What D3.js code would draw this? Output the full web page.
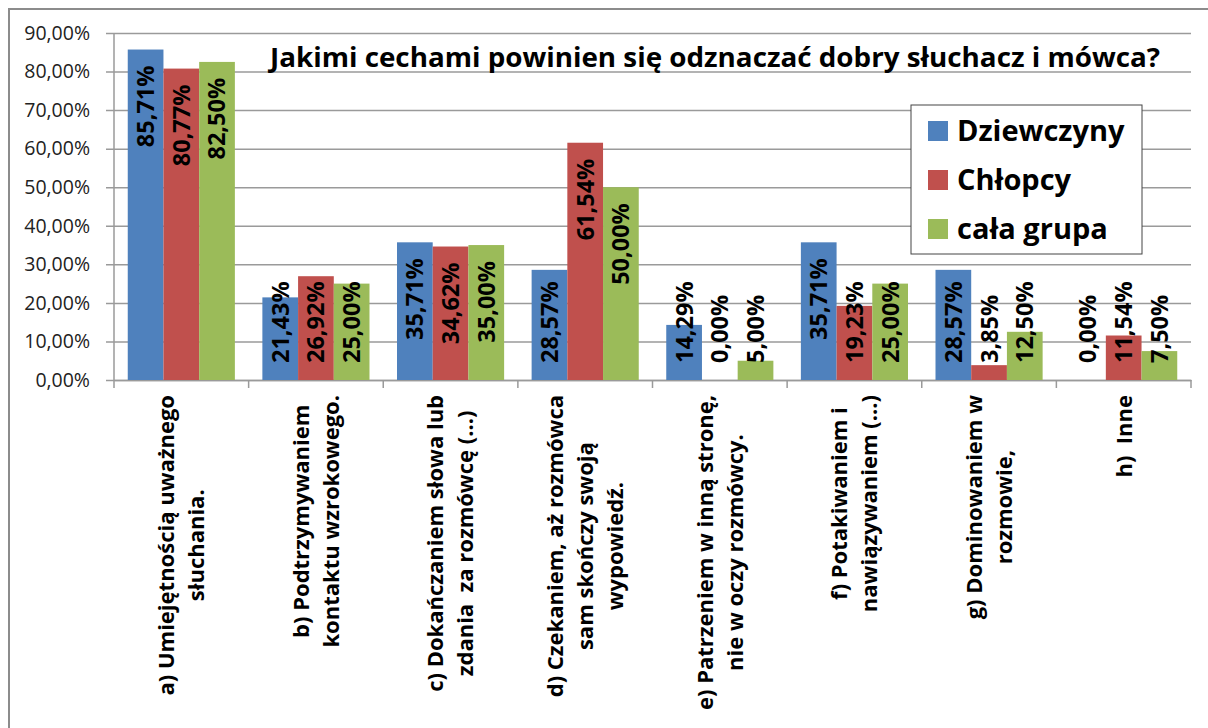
<!DOCTYPE html>
<html>
<head>
<meta charset="utf-8">
<script src="https://cdn.jsdelivr.net/npm/d3@7"></script>
<style>
  body { margin: 0; background: #fff; }
  svg { display: block; font-family: "Open Sans", sans-serif; }
  svg text { white-space: pre; }
</style>
</head>
<body>
<div id="chart"></div>
<script>
// chart data
var categories = [
    ["a) Umiejętnością uważnego", "słuchania."],
    ["b) Podtrzymywaniem", "kontaktu wzrokowego."],
    ["c) Dokańczaniem słowa lub", "zdania  za rozmówcę (…)"],
    ["d) Czekaniem, aż rozmówca", "sam skończy swoją", "wypowiedź."],
    ["e) Patrzeniem w inną stronę,", "nie w oczy rozmówcy."],
    ["f) Potakiwaniem i", "nawiązywaniem (…)"],
    ["g) Dominowaniem w", "rozmowie,"],
    ["h)  Inne"]
];
var seriesNames = ["Dziewczyny", "Chłopcy", "cała grupa"];
var seriesColors = ["#4f81bd", "#c0504d", "#9bbb59"];
var dziewczyny = [85.71, 21.43, 35.71, 28.57, 14.29, 35.71, 28.57, 0.00];
var chlopcy = [80.77, 26.92, 34.62, 61.54, 0.00, 19.23, 3.85, 11.54];
var calaGrupa = [82.50, 25.00, 35.00, 50.00, 5.00, 25.00, 12.50, 7.50];
var yTicks = [0, 10, 20, 30, 40, 50, 60, 70, 80, 90];
var title = "Jakimi cechami powinien się odznaczać dobry słuchacz i mówca?";

var seriesValues = [dziewczyny, chlopcy, calaGrupa];

var width = 1208, height = 728,
    plot = {left: 114, right: 1191, top: 33, bottom: 380};

var svg = d3.select("#chart").append("svg")
    .attr("width", width)
    .attr("height", height);

// outer chart border (runs off the picture on the right and bottom)
svg.append("rect")
    .attr("x", 9).attr("y", 9)
    .attr("width", width + 20).attr("height", height + 20)
    .attr("fill", "#fff")
    .attr("stroke", "#8c8c8c")
    .attr("stroke-width", 2);

var x = d3.scaleBand()
    .domain(d3.range(categories.length))
    .range([plot.left, plot.right])
    .padding(0);

var xs = d3.scaleBand()
    .domain(d3.range(seriesNames.length))
    .range([0, x.bandwidth()])
    .paddingInner(0)
    .paddingOuter(0.385);

var y = d3.scaleLinear()
    .domain([0, 90])
    .range([plot.bottom, plot.top]);

var fmt = function (d) {
    return d.toFixed(2).replace(".", ",") + "%";
};

// gridlines + y axis
var yAxis = d3.axisLeft(y)
    .tickValues(yTicks)
    .tickSize(-(plot.right - plot.left))
    .tickSizeOuter(0)
    .tickPadding(24)
    .tickFormat(fmt);

var yg = svg.append("g")
    .attr("transform", "translate(" + plot.left + ",0)")
    .call(yAxis);
yg.select(".domain").remove();
yg.selectAll(".tick line")
    .attr("x1", -8)
    .attr("stroke", "#9a9a9a")
    .attr("stroke-width", 1.5);
yg.selectAll(".tick text")
    .attr("font-size", 19.5)
    .attr("fill", "#222")
    .attr("font-family", "Open Sans, sans-serif");

svg.append("line")
    .attr("x1", plot.left).attr("x2", plot.left)
    .attr("y1", plot.top).attr("y2", plot.bottom)
    .attr("stroke", "#9a9a9a")
    .attr("stroke-width", 1.5);

// x axis line + ticks at category boundaries
var xAxis = d3.axisBottom(x)
    .tickValues([])
    .tickSizeOuter(0);
svg.append("g")
    .attr("transform", "translate(0," + plot.bottom + ")")
    .call(xAxis)
    .select(".domain")
    .attr("stroke", "#9a9a9a")
    .attr("stroke-width", 1.5);

svg.append("g")
    .selectAll("line")
    .data(d3.range(categories.length + 1))
    .enter()
    .append("line")
    .attr("x1", function (d) { return d < categories.length ? x(d) : plot.right; })
    .attr("x2", function (d) { return d < categories.length ? x(d) : plot.right; })
    .attr("y1", plot.bottom)
    .attr("y2", plot.bottom + 8)
    .attr("stroke", "#9a9a9a")
    .attr("stroke-width", 1.5);

// bars
var barData = [];
seriesValues.forEach(function (vals, s) {
    vals.forEach(function (v, i) {
        barData.push({s: s, i: i, v: v});
    });
});

svg.append("g")
    .selectAll("rect")
    .data(barData)
    .enter()
    .append("rect")
    .attr("x", function (d) { return x(d.i) + xs(d.s); })
    .attr("y", function (d) { return y(d.v); })
    .attr("width", xs.bandwidth())
    .attr("height", function (d) { return y(0) - y(d.v); })
    .attr("fill", function (d) { return seriesColors[d.s]; });

// data labels (rotated, inside end, pushed up from the base when too short)
var labels = svg.append("g")
    .selectAll("text")
    .data(barData)
    .enter()
    .append("text")
    .attr("font-size", 23.5)
    .attr("font-weight", "bold")
    .attr("fill", "#000")
    .attr("text-anchor", "end")
    .attr("dy", "0.36em")
    .text(function (d) { return fmt(d.v); });

labels.each(function (d) {
    var len = this.getComputedTextLength();
    var top = Math.min(y(d.v) + 16, plot.bottom - 17 - len);
    var cx = x(d.i) + xs(d.s) + xs.bandwidth() / 2;
    d3.select(this).attr("transform", "translate(" + cx + "," + top + ") rotate(-90)");
});

// category labels
var lineH = 30;
var catG = svg.append("g")
    .selectAll("g")
    .data(categories)
    .enter()
    .append("g");

catG.each(function (lines, i) {
    var g = d3.select(this);
    var cx = x(i) + x.bandwidth() / 2;
    var texts = g.selectAll("text")
        .data(lines)
        .enter()
        .append("text")
        .attr("font-size", 22)
        .attr("font-weight", "bold")
        .attr("fill", "#000")
        .attr("text-anchor", "middle")
        .attr("dy", "0.36em")
        .text(function (d) { return d; });
    var maxLen = d3.max(texts.nodes(), function (n) { return n.getComputedTextLength(); });
    texts.attr("transform", function (d, j) {
        var lx = cx + (j - (lines.length - 1) / 2) * lineH;
        return "translate(" + lx + "," + (plot.bottom + 15 + maxLen / 2) + ") rotate(-90)";
    });
});

// title
svg.append("text")
    .attr("x", 715)
    .attr("y", 67)
    .attr("text-anchor", "middle")
    .attr("font-size", 26)
    .attr("font-weight", "bold")
    .attr("fill", "#000")
    .attr("textLength", 890)
    .attr("lengthAdjust", "spacingAndGlyphs")
    .text(title);

// legend
var legend = svg.append("g");
legend.append("rect")
    .attr("x", 911).attr("y", 105)
    .attr("width", 231).attr("height", 149)
    .attr("fill", "#fff")
    .attr("stroke", "#444")
    .attr("stroke-width", 1);

var items = legend.selectAll("g.item")
    .data(seriesNames)
    .enter()
    .append("g")
    .attr("class", "item")
    .attr("transform", function (d, i) { return "translate(928," + (131 + i * 49) + ")"; });

items.append("rect")
    .attr("x", 0).attr("y", -10)
    .attr("width", 20).attr("height", 20)
    .attr("fill", function (d, i) { return seriesColors[i]; });

items.append("text")
    .attr("x", 29)
    .attr("dy", "0.36em")
    .attr("font-size", 29)
    .attr("font-weight", "bold")
    .attr("fill", "#000")
    .text(function (d) { return d; });
</script>
</body>
</html>
